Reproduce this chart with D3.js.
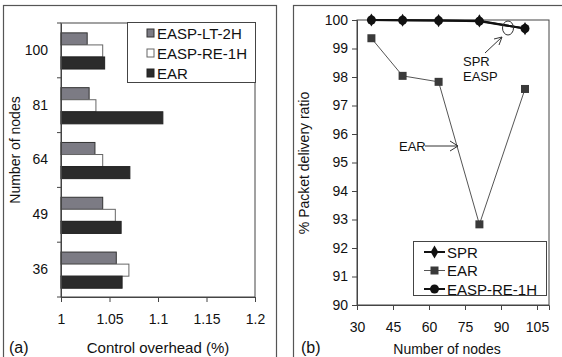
<!DOCTYPE html>
<html><head><meta charset="utf-8">
<script src="https://cdn.jsdelivr.net/npm/d3@7"></script>
<style>body{margin:0;background:#fff}svg{display:block}text{font-family:"Liberation Sans",Arial,sans-serif;fill:#111}</style>
</head><body><svg id="c" width="562" height="357"></svg>
<script>
// Panel (a) data
const nodeCats = ["100","81","64","49","36"];
const barSeries = ["EASP-LT-2H","EASP-RE-1H","EAR"];
const lt2h = [1.027,1.029,1.035,1.043,1.057];
const re1h = [1.043,1.036,1.043,1.056,1.070];
const earOverhead = [1.045,1.105,1.071,1.062,1.063];
const overheadTicks = [1,1.05,1.1,1.15,1.2];
// Panel (b) data
const nodes = [36,49,64,81,100];
const spr = [100,99.99,99.98,99.97,99.70];
const ear = [99.36,98.04,97.83,92.83,97.58];
const easp = [100,99.99,99.98,99.96,99.70];
const nodeTicks = [30,45,60,75,90,105];
const pdrTicks = [90,91,92,93,94,95,96,97,98,99,100];

const svg = d3.select("#c");
svg.append("rect").attr("width",562).attr("height",357).attr("fill","#fff");
// panel frames
svg.append("rect").attr("x",3.5).attr("y",5.5).attr("width",273).attr("height",370).attr("fill","none").attr("stroke","#555").attr("stroke-width",1.2);
svg.append("rect").attr("x",293.5).attr("y",5.5).attr("width",300).attr("height",370).attr("fill","none").attr("stroke","#555").attr("stroke-width",1.2);

// ---------- Panel (a)
const xA = d3.scaleLinear().domain([1,1.2]).range([61,255]);
const yA = d3.scaleBand().domain(nodeCats).range([23,297]);
const sub = d3.scaleBand().domain(barSeries).range([yA.bandwidth()*0.18, yA.bandwidth()*0.84]);
const vals = {"EASP-LT-2H":lt2h,"EASP-RE-1H":re1h,"EAR":earOverhead};
const fills = {"EASP-LT-2H":"#7c7b84","EASP-RE-1H":"#fff","EAR":"#2b2b2b"};
const strokes = {"EASP-LT-2H":"#333","EASP-RE-1H":"#666","EAR":"#222"};
const gA = svg.append("g");
gA.append("rect").attr("x",xA(1)).attr("y",yA.range()[0]).attr("width",xA(1.2)-xA(1)).attr("height",yA.range()[1]-yA.range()[0]).attr("fill","none").attr("stroke","#444");
barSeries.forEach(s=>{
  gA.selectAll(null).data(nodeCats).join("rect")
    .attr("x",xA(1)).attr("y",(c)=>yA(c)+sub(s))
    .attr("width",(c,i)=>xA(vals[s][i])-xA(1)).attr("height",sub.bandwidth())
    .attr("fill",fills[s]).attr("stroke",strokes[s]).attr("stroke-width",1);
});
// y axis labels
const axL = gA.append("g").attr("transform",`translate(${xA(1)},0)`).call(d3.axisLeft(yA).tickSize(0).tickPadding(13));
axL.select(".domain").attr("stroke","#444");
axL.selectAll("text").attr("font-size",14).attr("fill","#111").attr("font-family","Liberation Sans, Arial");
// boundary ticks
const bounds = d3.range(nodeCats.length+1).map(i=>yA.range()[0]+i*yA.step());
gA.selectAll(null).data(bounds).join("line").attr("x1",xA(1)-4).attr("x2",xA(1)).attr("y1",d=>d).attr("y2",d=>d).attr("stroke","#444");
// x axis
const axB = gA.append("g").attr("transform",`translate(0,297)`).call(d3.axisBottom(xA).tickValues(overheadTicks).tickFormat(d3.format("")).tickSize(5).tickPadding(12));
axB.select(".domain").attr("stroke","#444");
axB.selectAll("line").attr("stroke","#444");
axB.selectAll("text").attr("font-size",14).attr("fill","#111").attr("font-family","Liberation Sans, Arial");
gA.append("text").attr("x",158).attr("y",353).attr("text-anchor","middle").attr("font-size",15).text("Control overhead (%)");
gA.append("text").attr("x",9).attr("y",353).attr("font-size",16).text("(a)");
gA.append("text").attr("transform","translate(20,150) rotate(-90)").attr("text-anchor","middle").attr("font-size",14).text("Number of nodes");
// legend a
const lgA = gA.append("g");
lgA.append("rect").attr("x",127.5).attr("y",22.5).attr("width",128).attr("height",60).attr("fill","#fff").attr("stroke","#444");
barSeries.forEach((s,i)=>{
  const cy = 33 + i*20;
  lgA.append("rect").attr("x",147).attr("y",cy-4).attr("width",7).attr("height",8).attr("fill",fills[s]).attr("stroke",strokes[s]);
  lgA.append("text").attr("x",157).attr("y",cy+5.5).attr("font-size",15).text(s);
});

// ---------- Panel (b)
const xB = d3.scaleLinear().domain([30,110]).range([357,549]);
const yB = d3.scaleLinear().domain([90,100]).range([305,20]);
const gB = svg.append("g");
gB.append("rect").attr("x",xB(30)).attr("y",yB(100)).attr("width",xB(110)-xB(30)).attr("height",yB(90)-yB(100)).attr("fill","none").attr("stroke","#444");
const ayB = gB.append("g").attr("transform",`translate(${xB(30)},0)`).call(d3.axisLeft(yB).tickValues(pdrTicks).tickSize(5).tickPadding(4));
const axBb = gB.append("g").attr("transform",`translate(0,${yB(90)})`).call(d3.axisBottom(xB).tickValues(nodeTicks).tickSize(5).tickPadding(12));
[ayB,axBb].forEach(a=>{a.select(".domain").attr("stroke","#444");a.selectAll("line").attr("stroke","#444");a.selectAll("text").attr("font-size",14).attr("fill","#111").attr("font-family","Liberation Sans, Arial");});
const line = d3.line().x((d,i)=>xB(nodes[i])).y(d=>yB(d));
gB.append("path").attr("d",line(ear)).attr("fill","none").attr("stroke","#555").attr("stroke-width",1);
gB.append("path").attr("d",line(easp)).attr("fill","none").attr("stroke","#111").attr("stroke-width",2);
gB.append("path").attr("d",line(spr)).attr("fill","none").attr("stroke","#111").attr("stroke-width",2);
gB.selectAll(null).data(ear).join("rect").attr("x",(d,i)=>xB(nodes[i])-4).attr("y",d=>yB(d)-4).attr("width",8).attr("height",8).attr("fill","#3a3a3a");
gB.selectAll(null).data(easp).join("circle").attr("cx",(d,i)=>xB(nodes[i])).attr("cy",d=>yB(d)).attr("r",4.5).attr("fill","#111");
const diamond = d3.symbol().type(d3.symbolDiamond).size(50);
gB.selectAll(null).data(spr).join("path").attr("d",diamond).attr("transform",(d,i)=>`translate(${xB(nodes[i])},${yB(d)})`).attr("fill","#111");
// annotations
gB.append("ellipse").attr("cx",508).attr("cy",28).attr("rx",5.5).attr("ry",7).attr("fill","none").attr("stroke","#333");
gB.append("line").attr("x1",485).attr("y1",53).attr("x2",502).attr("y2",37).attr("stroke","#333");
gB.append("path").attr("d","M494,39 L502,37 L499,45").attr("fill","none").attr("stroke","#333");
gB.append("text").attr("x",463).attr("y",66).attr("font-size",13).text("SPR");
gB.append("text").attr("x",463).attr("y",81).attr("font-size",13).text("EASP");
gB.append("text").attr("x",399).attr("y",150.5).attr("font-size",13).text("EAR");
gB.append("line").attr("x1",425).attr("y1",146).attr("x2",458).attr("y2",146).attr("stroke","#333");
gB.append("path").attr("d","M450,141 L458,146 L450,151").attr("fill","none").attr("stroke","#333");
gB.append("text").attr("transform","translate(309,163) rotate(-90)").attr("text-anchor","middle").attr("font-size",14).text("% Packet delivery ratio");
gB.append("text").attr("x",447).attr("y",354).attr("text-anchor","middle").attr("font-size",14).text("Number of nodes");
gB.append("text").attr("x",301).attr("y",353).attr("font-size",16).text("(b)");
// legend b
const lgB = gB.append("g");
lgB.append("rect").attr("x",413.5).attr("y",241.5).attr("width",133).attr("height",54).attr("fill","#fff").attr("stroke","#444");
const legB = [{n:"SPR",t:"diamond"},{n:"EAR",t:"square"},{n:"EASP-RE-1H",t:"circle"}];
legB.forEach((e,i)=>{
  const cy = 252 + i*18.5;
  lgB.append("line").attr("x1",424).attr("x2",445).attr("y1",cy).attr("y2",cy).attr("stroke",e.t==="square"?"#555":"#111").attr("stroke-width",e.t==="square"?1:2);
  if(e.t==="diamond") lgB.append("path").attr("d",diamond).attr("transform",`translate(434.5,${cy})`).attr("fill","#111");
  if(e.t==="square") lgB.append("rect").attr("x",430.5).attr("y",cy-4).attr("width",8).attr("height",8).attr("fill","#3a3a3a");
  if(e.t==="circle") lgB.append("circle").attr("cx",434.5).attr("cy",cy).attr("r",4.5).attr("fill","#111");
  lgB.append("text").attr("x",447).attr("y",cy+5.5).attr("font-size",15).text(e.n);
});
</script></body></html>
